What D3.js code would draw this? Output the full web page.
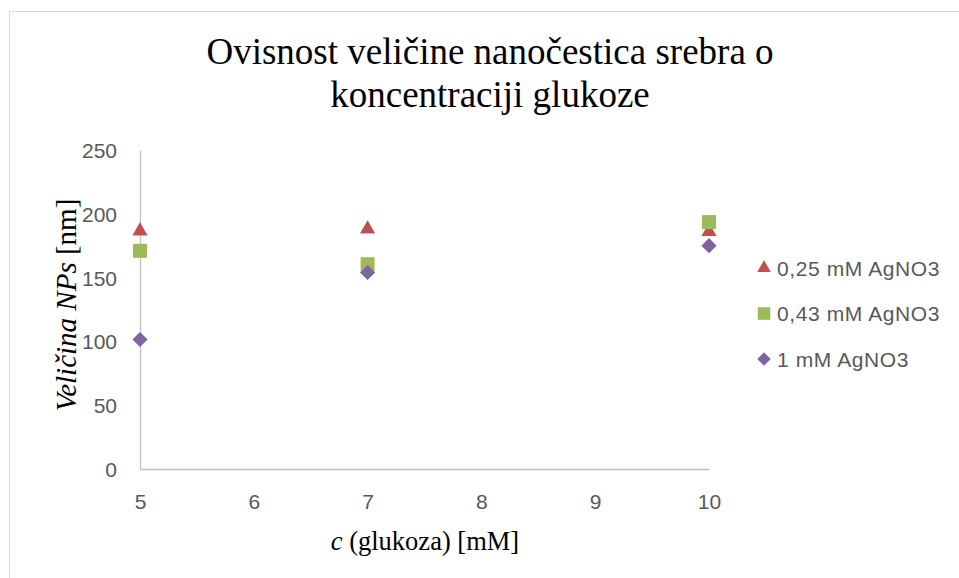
<!DOCTYPE html>
<html lang="hr">
<head>
    <meta charset="UTF-8">
    <title>Ovisnost veličine nanočestica srebra</title>
    <script src="https://d3js.org/d3.v7.min.js"></script>
    <style>
        body { margin: 0; background: #fff; }
        .tick text { font-family: "Liberation Sans", Arial, sans-serif; font-size: 21px; fill: #595959; }
    </style>
</head>
<body>
<svg id="chart" width="959" height="578"></svg>
<script>
    // data
    var glucose = [5, 7, 10];
    var series = ["0,25 mM AgNO3", "0,43 mM AgNO3", "1 mM AgNO3"];
    var size025 = [186.5, 188, 186];
    var size043 = [171, 160.5, 193.5];
    var size1 = [101.5, 154, 175];
    var yTicks = [0, 50, 100, 150, 200, 250];
    var xTicks = [5, 6, 7, 8, 9, 10];

    var colors = ["#c0504d", "#9bbb59", "#8064a2"];
    var values = [size025, size043, size1];

    // marker drawers: triangle, square, diamond (rotated square)
    var markers = [
        { type: d3.symbolTriangle, size: 100, rot: 0 },
        { type: d3.symbolSquare, size: 196, rot: 0 },
        { type: d3.symbolSquare, size: 115, rot: 45 }
    ];

    var svg = d3.select("#chart");

    // chart frame
    svg.append("rect")
        .attr("x", 9.5).attr("y", 11.5)
        .attr("width", 960).attr("height", 580)
        .attr("fill", "none").attr("stroke", "#d9d9d9");

    var x = d3.scaleLinear().domain([5, 10]).range([140, 709]);
    var y = d3.scaleLinear().domain([0, 250]).range([469, 150]);

    var serif = "'Liberation Serif', 'Times New Roman', serif";

    // title
    var title = svg.append("text")
        .attr("text-anchor", "middle")
        .style("font-family", serif)
        .style("font-size", "37px")
        .attr("fill", "#000");
    title.append("tspan").attr("x", 490).attr("y", 64).text("Ovisnost veličine nanočestica srebra o");
    title.append("tspan").attr("x", 490).attr("y", 107).text("koncentraciji glukoze");

    // y axis
    var yAxis = svg.append("g")
        .attr("transform", "translate(140,0)")
        .call(d3.axisLeft(y).tickValues(yTicks).tickSize(0).tickPadding(23));
    yAxis.select(".domain").attr("stroke", "#bfbfbf").attr("stroke-width", 1.3);
    yAxis.selectAll(".tick text").attr("dy", "0.36em");

    // x axis
    var xAxis = svg.append("g")
        .attr("transform", "translate(0,469)")
        .call(d3.axisBottom(x).tickValues(xTicks).tickFormat(d3.format("d")).tickSize(0).tickPadding(25));
    xAxis.select(".domain").attr("stroke", "#bfbfbf").attr("stroke-width", 1.3);

    // axis titles
    var yl = svg.append("text")
        .attr("transform", "translate(76,305) rotate(-90)")
        .attr("text-anchor", "middle")
        .style("font-family", serif)
        .style("font-size", "29px");
    yl.append("tspan").style("font-style", "italic").text("Veličina NPs ");
    yl.append("tspan").text("[nm]");

    var xl = svg.append("text")
        .attr("x", 425).attr("y", 550)
        .attr("text-anchor", "middle")
        .style("font-family", serif)
        .style("font-size", "26.5px");
    xl.append("tspan").style("font-style", "italic").text("c");
    xl.append("tspan").text(" (glukoza) [mM]");

    // points
    values.forEach(function (vals, s) {
        svg.append("g").selectAll("path")
            .data(vals)
            .enter()
            .append("path")
            .attr("d", d3.symbol().type(markers[s].type).size(markers[s].size))
            .attr("transform", function (d, i) {
                return "translate(" + x(glucose[i]) + "," + y(d) + ") rotate(" + markers[s].rot + ")";
            })
            .attr("fill", colors[s]);
    });

    // legend
    var legend = svg.append("g").selectAll("g")
        .data(series)
        .enter()
        .append("g")
        .attr("transform", function (d, i) {
            return "translate(764," + (268 + i * 45.5) + ")";
        });
    legend.append("path")
        .attr("d", function (d, i) {
            return d3.symbol().type(markers[i].type).size(markers[i].size * 0.8)();
        })
        .attr("transform", function (d, i) { return "rotate(" + markers[i].rot + ")"; })
        .attr("fill", function (d, i) { return colors[i]; });
    legend.append("text")
        .attr("x", 13).attr("dy", "0.36em")
        .style("font-family", "'Liberation Sans', Arial, sans-serif")
        .style("font-size", "21px")
        .style("letter-spacing", "0.6px")
        .attr("fill", "#595959")
        .text(function (d) { return d; });
</script>
</body>
</html>
